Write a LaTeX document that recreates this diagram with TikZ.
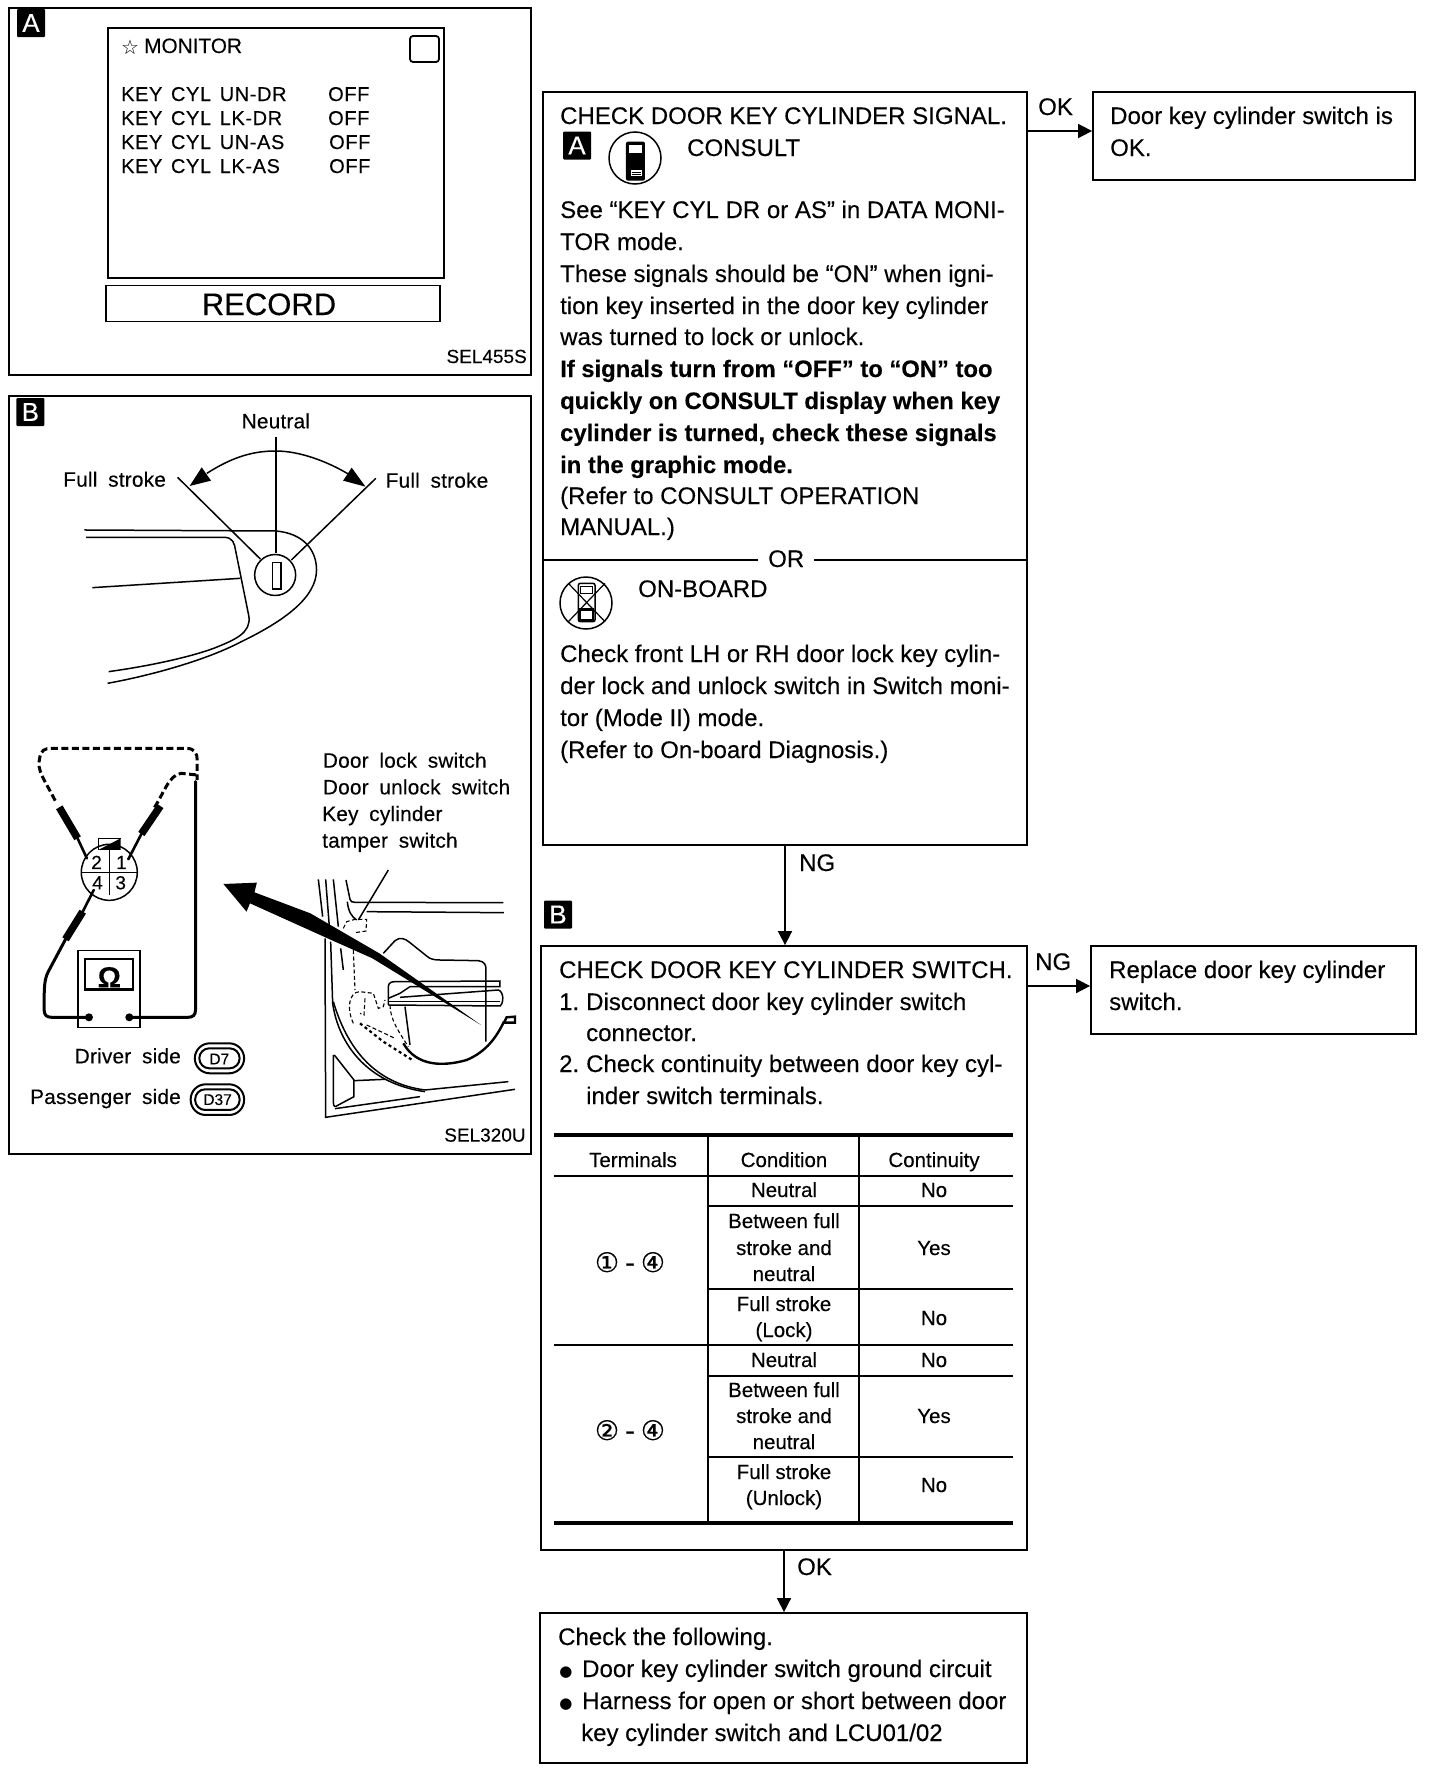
\documentclass[tikz,border=0pt]{standalone}
\usepackage{fontspec}
\setmainfont{Liberation Sans}[FakeBold=0.25]
\newfontfamily\widefont{Liberation Sans}[WordSpace=1.8,LetterSpace=1,FakeBold=0.25]
\newfontfamily\keyfont{Liberation Sans}[WordSpace=1.4,LetterSpace=3,FakeBold=0.25]
\newfontfamily\dejafont{DejaVu Sans}
\newfontfamily\circfont{DejaVu Sans}[FakeBold=0.4]
\usetikzlibrary{arrows.meta}
\newcounter{txc}
\newcommand\fsz[1]{\fontsize{#1pt}{#1pt}\selectfont}
\newcommand\tx[4][]{\stepcounter{txc}\node[txt,#1] (t\arabic{txc}) at (#2,#3) {#4};}
\tikzset{
  txt/.style={anchor=base west,inner sep=0pt,font=\fsz{24}},
  ctr/.style={anchor=base},
  rgt/.style={anchor=base east},
  tbl/.style={font=\fsz{20.5}},
  wide/.style={font=\widefont\fsz{20.8}},
  keyrow/.style={font=\keyfont\fsz{20}},
  boldrow/.style={font=\bfseries\fsz{23.8}},
  box/.style={draw,line width=1.8pt,inner sep=0pt},
  arr/.style={line width=1.6pt,-{Triangle[length=14pt,width=14pt]}},
  thin line/.style={line width=1.5pt},
  rule/.style={line width=2pt},
  thick rule/.style={line width=3.2pt},
  badge/.style={fill=black,text=white,anchor=center,inner sep=0pt,minimum width=28pt,minimum height=28pt,rounded corners=1pt,font=\fsz{26}},
  zooma/.style={shift={(0,#1)},x=0.3448pt,y=-0.3333pt},
  zoomb/.style={shift={(#1)},x=0.3333pt,y=-0.3333pt},
  wirel/.style={line width=3pt,line cap=round},
  needle/.style={line width=2.6pt,line cap=round},
  probe/.style={line width=7.5pt},
  dashw/.style={line width=3pt,dash pattern=on 7pt off 3.5pt},
  fine/.style={line width=1.1pt,dash pattern=on 4pt off 2.5pt},
}
\begin{document}
\begin{tikzpicture}[x=1pt,y=-1pt]
\path[use as bounding box] (0,0) rectangle (1440,1772);

% ---- Panel A
\node[box,minimum width=522pt,minimum height=367pt] (panelA) at (270,191.5) {};
\node[badge] (badgeA) at (31,23) {A};
\node[box,minimum width=336pt,minimum height=250pt] (monitor) at (276,153) {};
\draw[line width=1.8pt,rounded corners=3pt] (410,36) rectangle (439,62);
\tx[font=\dejafont\fsz{20},ctr]{130}{54}{☆}
\tx[font=\fsz{20.8}]{144}{53}{MONITOR}
\tx[keyrow]{121}{101}{KEY CYL UN-DR}
\tx[keyrow]{121}{125}{KEY CYL LK-DR}
\tx[keyrow]{121}{149}{KEY CYL UN-AS}
\tx[keyrow]{121}{173}{KEY CYL LK-AS}
\tx[keyrow]{328}{101}{OFF}
\tx[keyrow]{328}{125}{OFF}
\tx[keyrow]{329}{149}{OFF}
\tx[keyrow]{329}{173}{OFF}
\node[box,line width=1.3pt,minimum width=334pt,minimum height=36pt] (record) at (273,303.5) {};
\tx[ctr,font=\fsz{31}]{269}{315}{RECORD}
\tx[rgt,font=\fsz{19}]{527}{363}{SEL455S}

% ---- Panel B
\node[box,minimum width=522pt,minimum height=758pt] (panelB) at (270,775) {};
\begin{scope}[zooma=390]
  \node[badge] (badgeB) at (88,66) {B};
  \tx[ctr,wide]{800}{115}{Neutral}
  \tx[wide]{183}{290}{Full stroke}
  \tx[wide]{1118}{293}{Full stroke}
  \draw[thin line] (800,140) -- (800,490);
  \draw[thin line] (515,262) -- (755,507);
  \draw[thin line] (1090,265) -- (845,510);
  \draw[thin line] (600,250) .. controls (680,197) and (740,183) .. (800,183) .. controls (870,183) and (950,215) .. (1010,252);
  \fill (550,288) -- (585,232) -- (612,272) -- cycle;
  \fill (1060,290) -- (1020,233) -- (995,272) -- cycle;
  \draw[thin line] (245,420) -- (800,423) .. controls (880,430) and (918,480) .. (918,540) .. controls (918,620) and (830,690) .. (700,755) .. controls (590,815) and (420,860) .. (312,880);
  \draw[thin line] (250,442) -- (650,442) .. controls (675,442) and (680,460) .. (683,480) -- (722,680) .. controls (728,730) and (680,750) .. (620,775) .. controls (540,805) and (420,830) .. (315,845);
  \draw[thin line] (268,593) -- (697,565);
  \draw[thin line] (798,555) circle[radius=20.5pt];
  \draw[thin line] (790,517) rectangle (815,597);
\end{scope}
\begin{scope}[zooma=730]
  \tx[wide]{936}{113}{Door lock switch}
  \tx[wide]{936}{193}{Door unlock switch}
  \tx[wide]{934}{273}{Key cylinder}
  \tx[wide]{934}{353}{tamper switch}
  % dashed leads
  \draw[dashw] (160,212) .. controls (130,150) and (105,120) .. (115,85) .. controls (118,60) and (130,55) .. (150,55) -- (540,55) .. controls (565,55) and (572,70) .. (572,90) -- (572,150);
  \draw[dashw] (448,232) .. controls (475,190) and (490,135) .. (525,130) -- (572,135);
  % probes
  \draw[probe] (172,232) -- (225,325);
  \draw[needle] (225,325) -- (252,385);
  \draw[probe] (465,228) -- (410,312);
  \draw[needle] (410,312) -- (372,388);
  \draw[needle] (272,480) -- (240,545);
  \draw[probe] (240,545) -- (190,628);
  % wires
  \draw[wirel] (190,628) -- (140,725) .. controls (128,750) and (128,770) .. (128,840) .. controls (128,855) and (135,862) .. (150,862) -- (258,862);
  \draw[wirel] (567,155) -- (567,840) .. controls (567,855) and (560,862) .. (545,862) -- (375,862);
  \fill (258,862) circle[radius=4pt];
  \fill (375,862) circle[radius=4pt];
  % connector
  \draw[thin line] (285,360) -- (285,325) -- (350,325);
  \fill (285,360) -- (350,325) -- (350,360) -- cycle;
  \draw[line width=1.5pt] (317,427) circle[radius=28pt];
  \draw[line width=1.5pt] (317,360) -- (317,495);
  \draw[line width=1.5pt] (235,427) -- (400,427);
  \tx[ctr,font=\fsz{19}]{280}{417}{2}
  \tx[ctr,font=\fsz{19}]{352}{417}{1}
  \tx[ctr,font=\fsz{19}]{283}{478}{4}
  \tx[ctr,font=\fsz{19}]{350}{478}{3}
  % meter
  \node[draw,line width=1.7pt,inner sep=0pt,minimum width=62pt,minimum height=77pt] (meter) at (317,777) {};
  \draw[line width=2.4pt] (247,687) rectangle (385,778);
  \tx[ctr,font=\bfseries\fsz{29}]{317}{772}{Ω}
  % labels
  \tx[wide,rgt]{525}{1000}{Driver side}
  \tx[wide,rgt]{525}{1122}{Passenger side}
  \draw[line width=2pt,rounded corners=15pt] (565,940) rectangle (708,1030);
  \draw[line width=2pt,rounded corners=10pt] (578,955) rectangle (695,1015);
  \tx[ctr,font=\fsz{15.5}]{636}{1003}{D7}
  \draw[line width=2pt,rounded corners=15pt] (553,1063) rectangle (708,1155);
  \draw[line width=2pt,rounded corners=10pt] (566,1078) rectangle (695,1140);
  \tx[ctr,font=\fsz{15.5}]{631}{1125}{D37}
  \tx[rgt,font=\fsz{19}]{1525}{1235}{SEL320U}
\end{scope}
% door figure
\begin{scope}[zoomb={310,870}]
  \draw[thin line] (25,28) -- (38,140);
  \draw[thin line] (47,28) -- (58,170);
  \draw[thin line] (70,28) -- (85,170);
  \draw[thin line] (108,30) -- (120,88) .. controls (122,95) and (126,97) .. (135,97) -- (580,98);
  \draw[thin line] (112,95) .. controls (115,125) and (125,140) .. (140,150);
  \draw[thin line] (170,125) -- (582,128);
  \draw[thin line] (235,0) -- (145,150);
  \draw[fine] (100,175) -- (110,155) -- (135,148) -- (170,148) -- (168,183) -- (135,188);
  \draw[thin line] (45,205) -- (47,742) -- (615,658);
  \draw[thin line] (62,215) -- (68,400) .. controls (85,520) and (170,640) .. (345,665);
  \draw[thin line] (92,235) -- (100,300);
  \draw[thin line] (70,395) .. controls (110,530) and (190,640) .. (345,660) -- (595,635);
  \draw[thin line] (73,555) -- (132,630) -- (132,680) -- (85,705) .. controls (75,712) and (70,712) .. (70,695) -- (70,555);
  \draw[thin line] (132,632) -- (225,628);
  \draw[thin line] (75,716) -- (330,680);
  \draw[thin line] (220,250) -- (255,212) .. controls (270,200) and (285,205) .. (300,218) -- (350,258) .. controls (360,268) and (375,270) .. (390,270) -- (505,272) .. controls (525,275) and (528,285) .. (528,300) -- (528,515);
  \draw[thin line] (235,405) -- (235,350) .. controls (235,338) and (245,335) .. (255,335) -- (570,333) -- (570,350) -- (300,350) -- (270,370) -- (235,385);
  \draw[thin line] (270,382) -- (565,360) .. controls (582,365) and (582,400) .. (570,408) -- (235,405);
  \draw[thin line] (235,395) -- (570,395);
  \draw[thin line] (285,410) -- (300,525);
  \draw[line width=2.4pt] (280,520) .. controls (320,590) and (400,590) .. (470,570) .. controls (530,545) and (560,500) .. (582,455);
  \draw[line width=2.4pt] (582,458) -- (615,458) -- (615,440) -- (590,442) -- (582,458);
  \draw[fine] (130,240) -- (135,360);
  \draw[fine] (130,460) .. controls (110,420) and (115,365) .. (150,365) -- (190,370) -- (205,415) -- (220,410) -- (225,390);
  \draw[fine] (165,385) -- (162,435) -- (150,430);
  \draw[fine] (170,465) -- (255,505);
  \draw[fine] (240,405) .. controls (240,450) and (270,490) .. (295,530);
  \draw[line width=2.2pt,dash pattern=on 3pt off 3pt] (150,460) -- (220,515) -- (310,572);
\end{scope}
% large arrow
\begin{scope}[zooma=730]
  \fill (648,462) -- (745,458) -- (738,487) -- (900,550) -- (1100,670) -- (1395,885) -- (1080,685) -- (950,625) -- (725,520) -- (715,545) -- cycle;
\end{scope}

% ---- Flow boxes
\node[box,minimum width=484pt,minimum height=753pt] (box1) at (785,468.5) {};
\node[box,minimum width=322pt,minimum height=88pt] (okbox) at (1254,136) {};
\node[box,minimum width=486pt,minimum height=604pt] (box2) at (784,1248) {};
\node[box,minimum width=325pt,minimum height=88pt] (repbox) at (1253.5,990) {};
\node[box,minimum width=487pt,minimum height=150pt] (finalbox) at (783.5,1688) {};
\coordinate (okin) at ([yshift=5pt]okbox.west);
\coordinate (repin) at ([yshift=4pt]repbox.west);
\draw[arr] (box1.east |- okin) -- (okin);
\draw[arr] (box2.east |- repin) -- (repin);
\draw[arr] (box1.south) -- (box1.south |- box2.north);
\draw[arr] (box2.south) -- (box2.south |- finalbox.north);
\tx{1038}{115}{OK}
\tx{799}{871}{NG}
\tx{1035}{970}{NG}
\tx{797}{1575}{OK}

% box 1 text
\tx{560}{124}{CHECK DOOR KEY CYLINDER SIGNAL.}
\node[badge] (badgeC) at (577,145.5) {A};
\tx{687}{156}{CONSULT}
\draw[thin line] (635,158) circle[radius=26pt];
\begin{scope}[zoomb={540,90}]
  \fill[rounded corners=2pt] (258,155) rectangle (315,272);
  \fill[white] (268,165) rectangle (305,190);
  \fill[white] (272,240) rectangle (305,258);
  \draw[line width=.8pt] (275,246) -- (302,246) (275,252) -- (302,252);
\end{scope}
\tx{560}{218}{See “KEY CYL DR or AS” in DATA MONI-}
\tx{560}{250}{TOR mode.}
\tx{560}{282}{These signals should be “ON” when igni-}
\tx{560}{314}{tion key inserted in the door key cylinder}
\tx{560}{345}{was turned to lock or unlock.}
\tx[boldrow]{560}{377}{If signals turn from “OFF” to “ON” too}
\tx[boldrow]{560}{409}{quickly on CONSULT display when key}
\tx[boldrow]{560}{441}{cylinder is turned, check these signals}
\tx[boldrow]{560}{473}{in the graphic mode.}
\tx{560}{504}{(Refer to CONSULT OPERATION}
\tx{560}{535}{MANUAL.)}
% OR divider
\node[txt] (ortext) at (768,567) {OR};
\coordinate (orl) at (box1.west |- 0,560);
\coordinate (orr) at (box1.east |- 0,560);
\draw[rule,line width=1.7pt] (orl) -- ([xshift=-10pt]ortext.west |- orl);
\draw[rule,line width=1.7pt] ([xshift=10pt]ortext.east |- orr) -- (orr);
% on-board
\draw[thin line] (586,603) circle[radius=26pt];
\begin{scope}[zoomb={540,540}]
  \draw[line width=1.2pt] (85,130) -- (195,245) (195,130) -- (85,245);
  \draw[line width=1.5pt,rounded corners=2pt] (115,130) rectangle (165,245);
  \draw[line width=1.2pt] (122,140) rectangle (158,160);
  \fill (118,205) rectangle (162,245);
  \fill[white] (123,212) rectangle (157,238);
\end{scope}
\tx{638}{597}{ON-BOARD}
\tx{560}{662}{Check front LH or RH door lock key cylin-}
\tx{560}{694}{der lock and unlock switch in Switch moni-}
\tx{560}{726}{tor (Mode II) mode.}
\tx{560}{758}{(Refer to On-board Diagnosis.)}

% ok / replace
\tx{1110}{124}{Door key cylinder switch is}
\tx{1110}{156}{OK.}
\tx{1109}{978}{Replace door key cylinder}
\tx{1109}{1010}{switch.}

% box 2
\node[badge] (badgeD) at (558,914.5) {B};
\tx{559}{978}{CHECK DOOR KEY CYLINDER SWITCH.}
\tx{559}{1010}{1.}
\tx{586}{1010}{Disconnect door key cylinder switch}
\tx{586}{1041}{connector.}
\tx{559}{1072}{2.}
\tx{586}{1072}{Check continuity between door key cyl-}
\tx{586}{1104}{inder switch terminals.}

% table
\coordinate (tl) at (554,1135); \coordinate (tr) at (1013,1135);
\coordinate (c1) at (708,1135); \coordinate (c2) at (859,1135);
\draw[thick rule] (tl) -- (tr);
\draw[thick rule] (554,1523) -- (1013,1523);
\draw[rule] (c1) -- (708,1523);
\draw[rule] (c2) -- (859,1523);
\draw[rule] (554,1176) -- (1013,1176);
\draw[rule] (554,1345) -- (1013,1345);
\draw[rule] (708,1206) -- (1013,1206);
\draw[rule] (708,1289) -- (1013,1289);
\draw[rule] (708,1376) -- (1013,1376);
\draw[rule] (708,1457) -- (1013,1457);
\tx[ctr,tbl]{633}{1167}{Terminals}
\tx[ctr,tbl]{784}{1167}{Condition}
\tx[ctr,tbl]{934}{1167}{Continuity}
\tx[ctr,tbl]{784}{1197}{Neutral}
\tx[ctr,tbl]{934}{1197}{No}
\tx[ctr,tbl]{784}{1228}{Between full}
\tx[ctr,tbl]{784}{1255}{stroke and}
\tx[ctr,tbl]{784}{1281}{neutral}
\tx[ctr,tbl]{934}{1255}{Yes}
\tx[ctr,tbl]{784}{1311}{Full stroke}
\tx[ctr,tbl]{784}{1337}{(Lock)}
\tx[ctr,tbl]{934}{1325}{No}
\tx[ctr,tbl]{784}{1367}{Neutral}
\tx[ctr,tbl]{934}{1367}{No}
\tx[ctr,tbl]{784}{1397}{Between full}
\tx[ctr,tbl]{784}{1423}{stroke and}
\tx[ctr,tbl]{784}{1449}{neutral}
\tx[ctr,tbl]{934}{1423}{Yes}
\tx[ctr,tbl]{784}{1479}{Full stroke}
\tx[ctr,tbl]{784}{1505}{(Unlock)}
\tx[ctr,tbl]{934}{1492}{No}
\tx[ctr,font=\circfont\fsz{27}]{630}{1272}{①\hspace{6pt}-\hspace{6pt}④}
\tx[ctr,font=\circfont\fsz{27}]{630}{1440}{②\hspace{6pt}-\hspace{6pt}④}

% final box
\tx{558}{1645}{Check the following.}
\tx[ctr,font=\dejafont\fsz{15}]{566}{1676}{●}
\tx{582}{1677}{Door key cylinder switch ground circuit}
\tx[ctr,font=\dejafont\fsz{15}]{566}{1708}{●}
\tx{582}{1709}{Harness for open or short between door}
\tx{581}{1741}{key cylinder switch and LCU01/02}
\end{tikzpicture}
\end{document}
